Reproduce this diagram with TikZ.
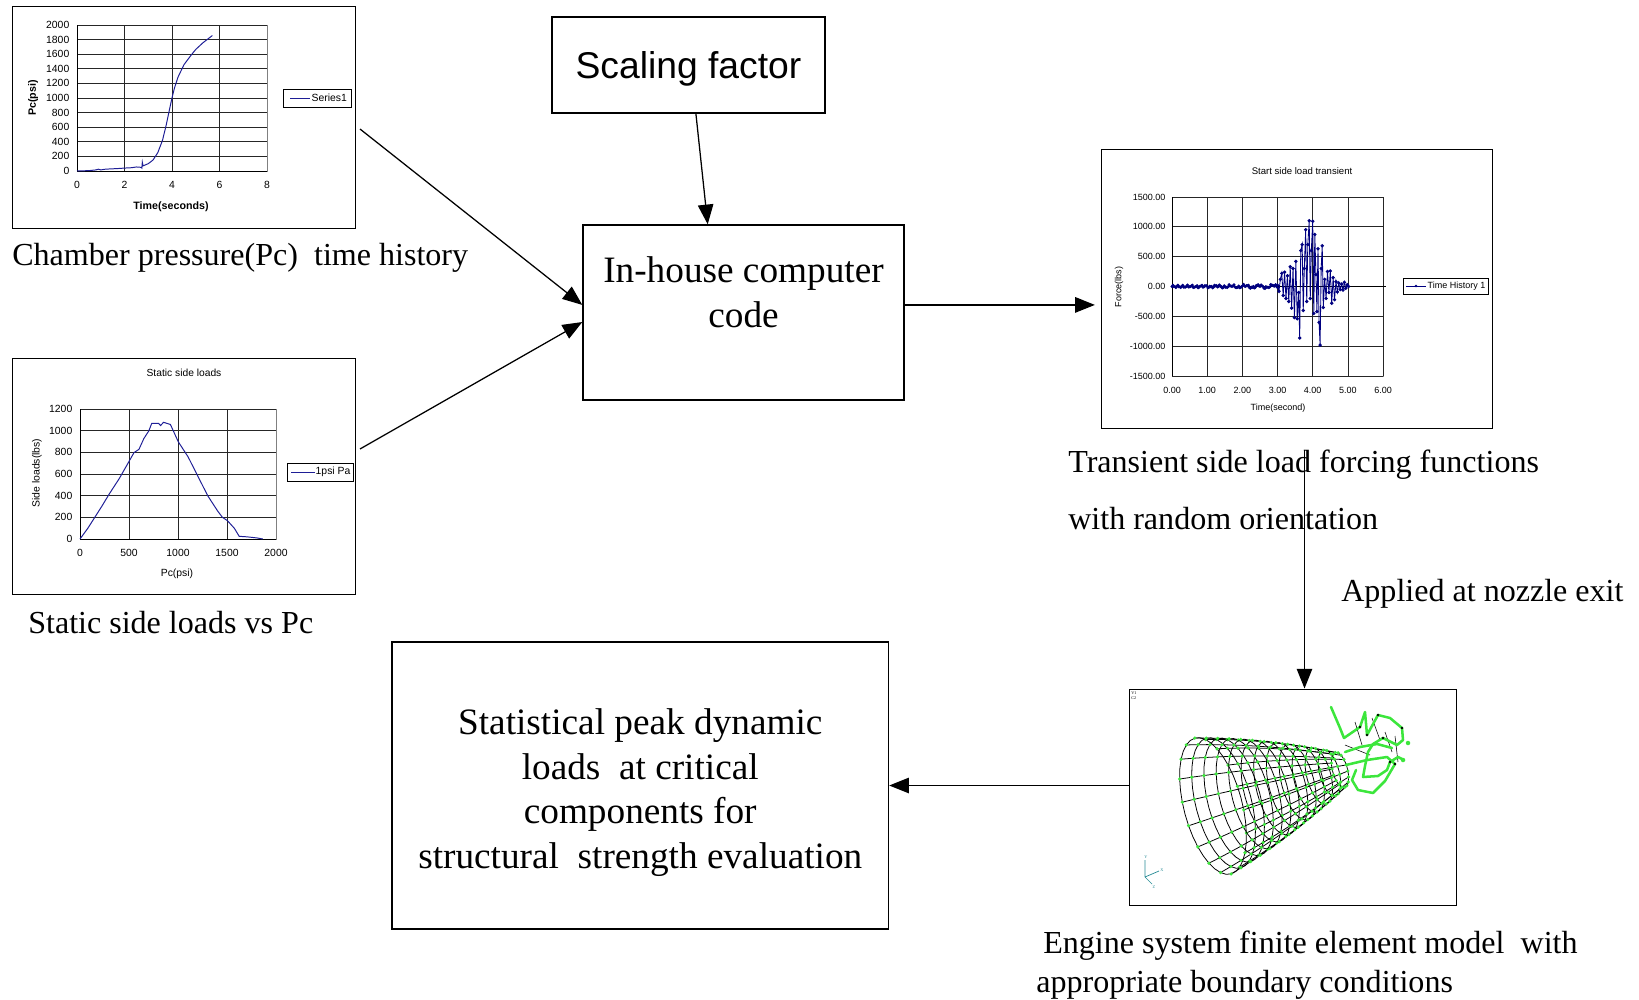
\documentclass[tikz,border=0pt]{standalone}
\usepackage{fontspec}
\setmainfont{Liberation Serif}
\newfontfamily\chartsans{Liberation Sans}
\usetikzlibrary{arrows.meta,calc}
\definecolor{curveblue}{RGB}{30,30,150}
\definecolor{navyline}{RGB}{0,0,128}
\definecolor{fegreen}{RGB}{60,230,60}
\definecolor{axisteal}{RGB}{40,140,150}
\newcommand{\pu}{0.025cm}
\tikzset{
  box/.style={draw, line width=1pt, inner sep=0pt},
  frame/.style={draw, line width=0.7pt, inner sep=0pt},
  arr/.style={-{Triangle[length=14pt,width=11pt]}, line width=0.9pt},
  caption/.style={anchor=base west, inner sep=0pt, font=\fontsize{22.8}{27}\selectfont},
  boxtext/.style={font=\fontsize{26.5}{31.7}\selectfont, align=center},
  tick/.style={font=\fontsize{7.4}{8}\chartsans, inner sep=1pt},
  smalltick/.style={font=\fontsize{6.4}{7}\chartsans, inner sep=1pt},
  gridl/.style={line width=0.5pt, black!85},
  plotedge/.style={line width=0.5pt, black!50},
  legendbox/.style={draw, line width=0.5pt, inner sep=0pt},
  mesh/.style={line width=0.55pt},
}
\begin{document}
\begin{tikzpicture}[x=\pu, y=-\pu]
\useasboundingbox (0,0) rectangle (1639,1000);

% boxes
\node[box, boxtext, font=\fontsize{26.5}{31.7}\chartsans, text height=25pt, text depth=5.6pt, minimum width=273*\pu, minimum height=96*\pu] (scaling) at (688.5,65) {Scaling factor};
\node[box, boxtext, minimum width=321*\pu, minimum height=175*\pu] (code) at (743.5,312.5) {\rule{0pt}{21pt}In-house computer\\code\\\mbox{}};
\node[box, boxtext, minimum width=496.5*\pu, minimum height=287*\pu] (stat) at (640.25,785.5) {\rule{0pt}{28.5pt}Statistical peak dynamic\\loads\ \ at critical\\components for\\structural\ \ strength evaluation};

% chart frames
\node[frame, minimum width=342.5*\pu, minimum height=222*\pu] (pcplot) at (183.75,117) {};
\node[frame, minimum width=342.5*\pu, minimum height=236*\pu] (sideplot) at (183.75,476) {};
\node[frame, minimum width=391*\pu, minimum height=279*\pu] (forceplot) at (1296.5,288.5) {};
\node[frame, minimum width=327*\pu, minimum height=216*\pu] (femodel) at (1292.5,797) {};

% captions
\node[caption] (pccap) at (12,265) {Chamber pressure(Pc)\ \ time history};
\node[caption] (sidecap) at (28,633) {Static side loads vs Pc};
\node[caption] (forcecap) at (1068,472) {Transient side load forcing functions};
\node[caption] (forcecap2) at (1068,529) {with random orientation};
\node[caption] (applied) at (1341,601) {Applied at nozzle exit};
\node[caption] (fecap) at (1043,953) {Engine system finite element model\ \ with};
\node[caption] (fecap2) at (1036,992) {appropriate boundary conditions};

% connectors
\coordinate (pcout) at (360,129);
\coordinate (sideout) at (360,449);
\coordinate (codeout) at ($(code.north east)!0.457!(code.south east)$);
\coordinate (forcedown) at (1304.5,449.5);
\draw[arr] (pcout) -- ($(code.north west)!0.457!(code.south west)$);
\draw[arr] (sideout) -- ($(code.north west)!0.554!(code.south west)$);
\draw[arr] ($(scaling.south west)!0.527!(scaling.south east)$) -- ($(code.north west)!0.389!(code.north east)$);
\draw[arr, shorten >=4pt] (codeout) -- (codeout -| forceplot.west);
\draw[arr] (forcedown) -- (forcedown |- femodel.north);
\draw[arr] (stat.east -| femodel.west) -- (stat.east);

% chamber pressure chart
\draw[plotedge] (77,25) rectangle (267,171);
\foreach \i in {0,...,10}{
  \draw[gridl] (77,{171-14.6*\i}) -- (267,{171-14.6*\i});
  \pgfmathtruncatemacro{\val}{200*\i}
  \node[tick, anchor=east] at (71,{171-14.6*\i}) {\val};
}
\foreach \k in {2,4,6} \draw[gridl] ({77+23.75*\k},25) -- ({77+23.75*\k},171);
\draw[line width=0.6pt] (77,25) -- (77,171) -- (267,171);
\foreach \k in {0,2,...,8} \node[tick] at ({77+23.75*\k},185) {\k};
\node[font=\fontsize{7.6}{8}\chartsans\bfseries, rotate=90] at (33,98) {Pc(psi)};
\node[font=\fontsize{7.6}{8}\chartsans\bfseries] at (171,207) {Time(seconds)};
\node[legendbox, minimum width=68*\pu, minimum height=18*\pu] (pclegend) at (317,98) {};
\draw[curveblue, line width=0.6pt] (290,98) -- (310,98);
\node[tick, anchor=west] at (310,98) {Series1};
\begin{scope}[shift={(77,171)}, x=0.59375cm, y=0.001825cm]
  \draw[curveblue, line width=0.7pt] plot coordinates {(0,0) (0.5,5) (0.8,15) (0.9,25) (1.0,15) (1.2,25) (1.5,30) (1.8,35) (2.0,40) (2.3,45) (2.5,55) (2.7,50) (2.73,40) (2.75,120) (2.78,70) (3.0,100) (3.2,150) (3.4,250) (3.6,420) (3.75,620) (3.9,850) (4.0,1000) (4.1,1130) (4.25,1280) (4.5,1450) (4.8,1580) (5.0,1660) (5.3,1750) (5.7,1850)};
\end{scope}

% static side load chart
\node[font=\fontsize{7.3}{8}\chartsans] at (184,373) {Static side loads};
\draw[plotedge] (80,409) rectangle (276,539);
\foreach \i in {0,...,6}{
  \draw[gridl] (80,{539-21.67*\i}) -- (276,{539-21.67*\i});
  \pgfmathtruncatemacro{\val}{200*\i}
  \node[tick, anchor=east] at (74,{539-21.67*\i}) {\val};
}
\foreach \k in {500,1000,1500} \draw[gridl] ({80+0.098*\k},409) -- ({80+0.098*\k},539);
\draw[line width=0.6pt] (80,409) -- (80,539) -- (276,539);
\foreach \k in {0,500,1000,1500,2000} \node[tick] at ({80+0.098*\k},553) {\k};
\node[tick, rotate=90] at (37,473) {Side loads(lbs)};
\node[tick] at (177,574) {Pc(psi)};
\node[legendbox, minimum width=66*\pu, minimum height=18*\pu] (sidelegend) at (320,472) {};
\draw[curveblue, line width=0.6pt] (291,472) -- (315,472);
\node[tick, anchor=west] at (314,472) {1psi Pa};
\begin{scope}[shift={(80,539)}, x=0.00245cm, y=0.0027075cm]
  \draw[curveblue, line width=0.7pt] plot coordinates {(0,0) (80,100) (150,200) (220,300) (300,420) (400,560) (500,720) (550,800) (600,830) (650,930) (700,1000) (730,1070) (800,1070) (820,1050) (850,1080) (920,1060) (1000,900) (1100,760) (1200,580) (1300,400) (1400,260) (1450,200) (1500,170) (1570,100) (1620,25) (1700,20) (1800,10) (1860,0)};
\end{scope}

% transient force chart
\node[font=\fontsize{6.8}{7}\chartsans] at (1302,171) {Start side load transient};
\draw[plotedge] (1172,197) rectangle (1383,376);
\foreach \i/\lab in {0/1500.00,1/1000.00,2/500.00,3/0.00,4/-500.00,5/-1000.00,6/-1500.00}{
  \draw[gridl] (1172,{197+29.83*\i}) -- (1383,{197+29.83*\i});
  \node[smalltick, anchor=east] at (1167,{197+29.83*\i}) {\lab};
}
\foreach \k in {0,...,6}{
  \draw[gridl] ({1172+35.17*\k},197) -- ({1172+35.17*\k},376);
  \node[smalltick] at ({1172+35.17*\k},390) {\k.00};
}
\draw[line width=0.6pt] (1172,197) -- (1172,376) (1172,286.5) -- (1386,286.5);
\node[smalltick, rotate=90] at (1119,287) {Force(lbs)};
\node[smalltick] at (1278,408) {Time(second)};
\node[legendbox, minimum width=85*\pu, minimum height=16*\pu] (forcelegend) at (1445.5,286) {};
\draw[navyline, line width=0.6pt] (1406,286) -- (1426,286);
\fill[navyline] (1416,286) circle (1pt);
\node[smalltick, anchor=west] at (1426,286) {Time History 1};
\begin{scope}[shift={(1172,286.5)}, x=0.87925cm, y=0.00149175cm]
  \draw[navyline, line width=0.5pt, mark=*, mark size=0.8pt] plot[domain=0:3, samples=110, variable=\t] (\t,{15*sin(2713*\t)+10*sin(5167*\t)+8*\t*sin(911*\t)});
  \draw[navyline, line width=0.6pt, mark=*, mark size=0.9pt] plot coordinates {(3.00,20) (3.04,-80) (3.08,120) (3.12,220) (3.16,-150) (3.20,240) (3.24,-200) (3.28,180) (3.32,-250) (3.36,330) (3.40,-360) (3.44,300) (3.48,-520) (3.52,420) (3.56,-540) (3.60,-100) (3.63,-860) (3.66,600) (3.70,700) (3.73,-400) (3.76,300) (3.80,950) (3.83,-250) (3.86,700) (3.90,1100) (3.93,-200) (3.96,600) (4.00,1090) (4.03,-450) (4.06,870) (4.09,200) (4.12,-420) (4.15,630) (4.18,-600) (4.21,-980) (4.24,300) (4.27,680) (4.30,-350) (4.34,120) (4.38,-200) (4.42,250) (4.46,-100) (4.50,260) (4.54,-280) (4.58,150) (4.62,-220) (4.66,80) (4.70,-90) (4.74,60) (4.78,-50) (4.82,40) (4.86,-60) (4.90,70) (4.94,-30) (4.98,30) (5.02,0)};
\end{scope}

% finite element model
\node[font=\fontsize{3}{3.5}\selectfont, anchor=west, inner sep=0pt, align=left] at (1131,696) {V1\\C2};
\foreach \t in {0,20,...,340}
  \draw[mesh] plot[domain=0:1, samples=20, variable=\s]
    ({1213+127*\s+(18+52*(1-\s)*(1+0.3*\s))*(-0.26*cos(\t)+0.40*sin(\t))},
     {806-36*\s+(18+52*(1-\s)*(1+0.3*\s))*(-0.97*cos(\t)-0.115*sin(\t))});
\foreach \j in {0,...,12}{
  \pgfmathsetmacro{\s}{\j/12}
  \draw[mesh] plot[domain=0:360, samples=37, variable=\t]
    ({1213+127*\s+(18+52*(1-\s)*(1+0.3*\s))*(-0.26*cos(\t)+0.40*sin(\t))},
     {806-36*\s+(18+52*(1-\s)*(1+0.3*\s))*(-0.97*cos(\t)-0.115*sin(\t))});
  \foreach \t in {0,20,...,340}
    \fill[fegreen] ({1213+127*\s+(18+52*(1-\s)*(1+0.3*\s))*(-0.26*cos(\t)+0.40*sin(\t))},
     {806-36*\s+(18+52*(1-\s)*(1+0.3*\s))*(-0.97*cos(\t)-0.115*sin(\t))}) circle (1.3pt);
}
\draw[line width=0.4pt] (1355,722) -- (1362,745) (1385,732) -- (1392,752) (1395,736) -- (1398,762) (1345,745) -- (1370,755) (1372,718) -- (1380,740);
\draw[fegreen, line width=1.8pt, line join=round, line cap=round] (1331,707) -- (1340,728) -- (1344,738) -- (1360,727) -- (1365,712) -- (1367,735) -- (1378,715) -- (1390,718) -- (1402,728) -- (1403,740) -- (1397,745) -- (1383,738) -- (1373,744) -- (1368,752) -- (1365,766) -- (1363,777) -- (1378,776) -- (1387,770) -- (1390,762) -- (1398,757) -- (1404,760);
\draw[fegreen, line width=1.8pt, line join=round, line cap=round] (1345,752) -- (1360,747) -- (1377,744) -- (1392,748);
\draw[fegreen, line width=1.8pt, line join=round, line cap=round] (1346,765) -- (1367,760) -- (1387,757) -- (1395,764) -- (1385,781) -- (1373,793) -- (1358,790) -- (1352,780) -- (1356,770);
\fill[fegreen] (1408,743) circle (1.6pt) (1403,760) circle (1.6pt);
\foreach \p in {(1360,727),(1378,715),(1402,728),(1383,738),(1390,762),(1367,735),(1395,764)} \fill \p circle (1pt);
\draw[axisteal, line width=0.5pt] (1145,877) -- (1145,860) (1145,877) -- (1159,871) (1145,877) -- (1152,884);
\node[axisteal, font=\fontsize{3}{3.5}\selectfont, inner sep=0pt] at (1146,857) {Y};
\node[axisteal, font=\fontsize{3}{3.5}\selectfont, inner sep=0pt] at (1162,870) {X};
\node[axisteal, font=\fontsize{3}{3.5}\selectfont, inner sep=0pt] at (1154,887) {Z};
\end{tikzpicture}
\end{document}
